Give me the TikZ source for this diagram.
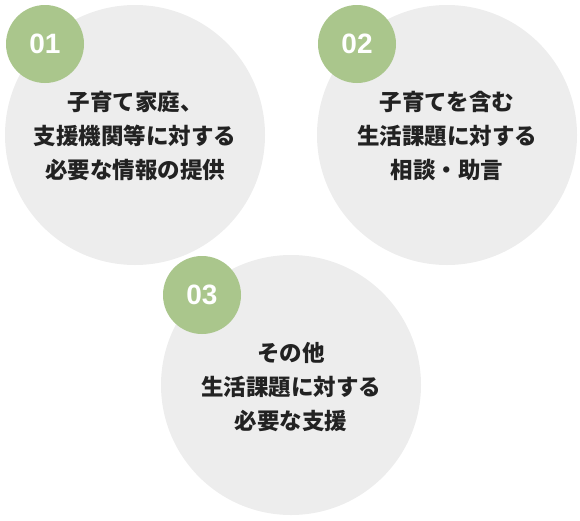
\documentclass[tikz,border=0pt]{standalone}
\usepackage{fontspec}
\newfontfamily\jp{Noto Sans CJK JP}
\newfontfamily\numfont{Liberation Sans}
\definecolor{bubble}{HTML}{EDEDED}
\definecolor{badge}{HTML}{AAC68C}
\definecolor{ink}{HTML}{222222}
\tikzset{
  bigcircle/.style={circle, fill=bubble, minimum size=260pt, inner sep=0pt},
  numbadge/.style={circle, fill=badge, minimum size=78pt, inner sep=0pt, text=white,
    font=\numfont\bfseries\fontsize{28pt}{28pt}\selectfont},
  label/.style={align=center, text=ink, font=\jp\bfseries\fontsize{22.5pt}{34pt}\selectfont}
}
\begin{document}
\begin{tikzpicture}[x=1pt,y=-1pt]
\useasboundingbox (0,0) rectangle (580,520);
\node[bigcircle] (c1) at (135,135) {};
\node[bigcircle] (c2) at (447,135) {};
\node[bigcircle] (c3) at (291,385) {};
\node[numbadge] (n1) at (45,44) {01};
\node[numbadge] (n2) at (357,44) {02};
\node[numbadge] (n3) at (202,295) {03};
\node[label] (t1) at (135,136) {子育て家庭、\\支援機関等に対する\\必要な情報の提供};
\node[label] (t2) at (447,136) {子育てを含む\\生活課題に対する\\相談・助言};
\node[label] (t3) at (291,387) {その他\\生活課題に対する\\必要な支援};
\end{tikzpicture}
\end{document}
